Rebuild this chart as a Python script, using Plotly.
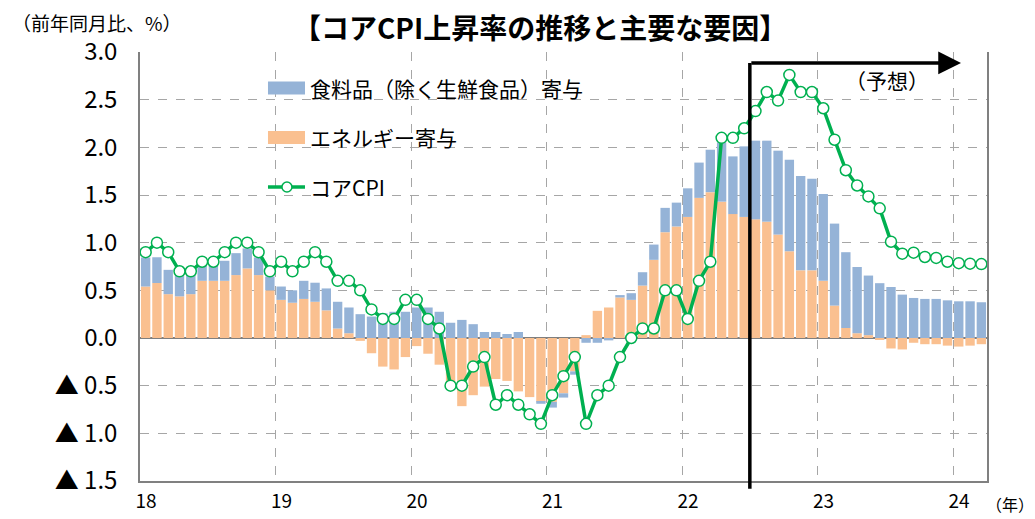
import plotly.graph_objects as go

# ---- data (2018-01 .. 2024-03, monthly) ----
years = list(range(2018, 2025))
months = [f"{y}-{m:02d}" for y in years for m in range(1, 13)][:75]

food = [0.305, 0.27, 0.255, 0.22, 0.20, 0.16, 0.16, 0.21, 0.23, 0.21, 0.185, 0.145,
        0.14, 0.13, 0.19, 0.20, 0.23, 0.28, 0.27, 0.25, 0.225, 0.26, 0.275, 0.275,
        0.32, 0.32, 0.275, 0.16, 0.19, 0.145, 0.063, 0.063, 0.042, 0.063, 0.0, -0.02,
        -0.06, -0.045, -0.035, -0.05, -0.05, -0.025, 0.025, 0.07, 0.14, 0.16, 0.255, 0.25,
        0.30, 0.37, 0.445, 0.62, 0.605, 0.74, 0.825, 0.85, 0.88, 0.96, 0.99, 0.96,
        0.91, 0.86, 0.795, 0.695, 0.625, 0.575, 0.535, 0.455, 0.42, 0.41, 0.41, 0.395,
        0.385, 0.385, 0.375]

energy = [0.54, 0.577, 0.46, 0.437, 0.46, 0.60, 0.60, 0.60, 0.66, 0.73, 0.66, 0.50,
          0.40, 0.37, 0.41, 0.38, 0.29, 0.10, 0.05, -0.03, -0.16, -0.30, -0.33, -0.20,
          -0.085, -0.165, -0.28, -0.48, -0.715, -0.60, -0.51, -0.43, -0.45, -0.56, -0.62, -0.67,
          -0.67, -0.58, -0.35, 0.03, 0.285, 0.32, 0.425, 0.40, 0.55, 0.82, 1.11, 1.17,
          1.27, 1.47, 1.53, 1.43, 1.30, 1.27, 1.245, 1.22, 1.085, 0.91, 0.71, 0.71,
          0.60, 0.34, 0.105, 0.05, 0.03, -0.015, -0.11, -0.12, -0.05, -0.065, -0.065, -0.08,
          -0.09, -0.08, -0.065]

core_cpi = [0.9, 1.0, 0.9, 0.7, 0.7, 0.8, 0.8, 0.9, 1.0, 1.0, 0.9, 0.7,
            0.8, 0.7, 0.8, 0.9, 0.8, 0.6, 0.6, 0.5, 0.3, 0.2, 0.2, 0.4,
            0.4, 0.2, 0.1, -0.5, -0.5, -0.3, -0.2, -0.7, -0.6, -0.7, -0.8, -0.9,
            -0.6, -0.4, -0.2, -0.9, -0.6, -0.5, -0.2, 0.0, 0.1, 0.1, 0.5, 0.5,
            0.2, 0.6, 0.8, 2.1, 2.1, 2.2, 2.38, 2.58, 2.49, 2.76, 2.58, 2.58,
            2.41, 2.08, 1.76, 1.60, 1.485, 1.36, 1.01, 0.885, 0.895, 0.85, 0.84, 0.80,
            0.785, 0.78, 0.775]

year_labels = ["18", "19", "20", "21", "22", "23", "24"]
y_ticks = [3.0, 2.5, 2.0, 1.5, 1.0, 0.5, 0.0, -0.5, -1.0, -1.5]
y_ticktext = ["3.0", "2.5", "2.0", "1.5", "1.0", "0.5", "0.0", "▲ 0.5", "▲ 1.0", "▲ 1.5"]
forecast_start = "2022-07"
legend_names = ["食料品（除く生鮮食品）寄与", "エネルギー寄与", "コアCPI"]

x = list(range(len(months)))
xf = months.index(forecast_start) - 0.5
year_pos = [months.index(f"20{yl}-01") - 0.5 for yl in year_labels]

FONT = "Noto Sans CJK JP"
BLUE = "#95B3D7"
ORANGE = "#FAC090"
GREEN = "#00B050"

fig = go.Figure()
fig.add_trace(go.Bar(x=x, y=energy, name=legend_names[1], marker_color=ORANGE,
                     marker_line_width=0))
fig.add_trace(go.Bar(x=x, y=food, name=legend_names[0], marker_color=BLUE,
                     marker_line_width=0))
fig.add_trace(go.Scatter(x=x, y=core_cpi, name=legend_names[2], mode="lines+markers",
                         line=dict(color=GREEN, width=3.5),
                         marker=dict(symbol="circle", size=11, color="white",
                                     line=dict(color=GREEN, width=1.5))))

# page has an 8px body margin -> figure shrunk by 8px so the plot area lands on target
fig.update_layout(
    width=1027, height=511,
    margin=dict(l=132, r=48, t=44, b=38, autoexpand=False),
    paper_bgcolor="white", plot_bgcolor="white",
    barmode="relative", bargap=0.17,
    font=dict(family=FONT, size=18, color="#000000"),
    showlegend=False,
)

fig.update_xaxes(
    range=[-0.5, len(months) - 0.5], tickmode="array", tickvals=year_pos,
    ticktext=year_labels, ticks="", showgrid=True, gridcolor="#A6A6A6",
    griddash="dash", gridwidth=1, showline=True, linecolor="#808080", linewidth=1.5,
    zeroline=False, tickfont=dict(size=19, family=FONT), ticklabelshift=6,
    ticklabelstandoff=2, automargin=False,
)
fig.update_yaxes(
    range=[-1.5, 3.0], tickmode="array", tickvals=y_ticks, ticktext=y_ticktext,
    ticks="", showgrid=True, gridcolor="#A6A6A6", griddash="dash", gridwidth=1,
    showline=True, mirror=True, linecolor="#808080", linewidth=1.5,
    zeroline=True, zerolinecolor="#7F7F7F", zerolinewidth=2,
    tickfont=dict(size=24, family=FONT), ticklabelstandoff=16, automargin=False,
)

# custom legend (wide swatches like the original)
lx0, lx1, ltx = 0.1511, 0.1948, 0.1983
ly = [0.9161, 0.8007, 0.6853]
fig.add_shape(type="rect", xref="paper", yref="paper", x0=lx0, x1=lx1,
              y0=ly[0] - 0.0152, y1=ly[0] + 0.0152, fillcolor=BLUE, line_width=0)
fig.add_shape(type="rect", xref="paper", yref="paper", x0=lx0, x1=lx1,
              y0=ly[1] - 0.0152, y1=ly[1] + 0.0152, fillcolor=ORANGE, line_width=0)
fig.add_shape(type="line", xref="paper", yref="paper", x0=lx0, x1=lx1,
              y0=ly[2], y1=ly[2], line=dict(color=GREEN, width=3.5))
fig.add_shape(type="circle", xref="paper", yref="paper", x0=0.1676, x1=0.1794,
              y0=ly[2] - 0.0117, y1=ly[2] + 0.0117, fillcolor="white",
              line=dict(color=GREEN, width=1.5))
for name, yy in zip(legend_names, ly):
    fig.add_annotation(xref="paper", yref="paper", x=ltx, y=yy, text=name,
                       showarrow=False, xanchor="left", yanchor="middle",
                       font=dict(size=21, family=FONT))

# forecast marker: vertical line + arrow
fig.add_shape(type="line", xref="x", yref="paper", x0=xf, x1=xf, y0=-0.018, y1=0.9744,
              line=dict(color="black", width=3.5))
fig.add_annotation(xref="x", yref="paper", x=72.2, y=0.9744, ax=xf, ay=0,
                   axref="x", ayref="pixel", showarrow=True, arrowhead=2,
                   arrowsize=1.3, arrowwidth=3.5, arrowcolor="black", text="")
fig.add_annotation(xref="x", yref="paper", x=65.65, y=0.9347, text="（予想）",
                   showarrow=False, font=dict(size=21, family=FONT), xanchor="center",
                   yanchor="middle")

# titles
fig.add_annotation(xref="paper", yref="paper", x=0.472, y=1.058,
                   text="<b>【コアCPI上昇率の推移と主要な要因】</b>", showarrow=False,
                   font=dict(size=28, family=FONT), xanchor="center", yanchor="middle")
fig.add_annotation(xref="paper", yref="paper", x=-0.1535, y=1.0699,
                   text="（前年同月比、%）", showarrow=False,
                   font=dict(size=19, family=FONT), xanchor="left", yanchor="middle")
fig.add_annotation(xref="paper", yref="paper", x=0.996, y=-0.0536,
                   text="（年）", showarrow=False,
                   font=dict(size=16, family=FONT), xanchor="left", yanchor="middle")

fig.write_html("out.html")
